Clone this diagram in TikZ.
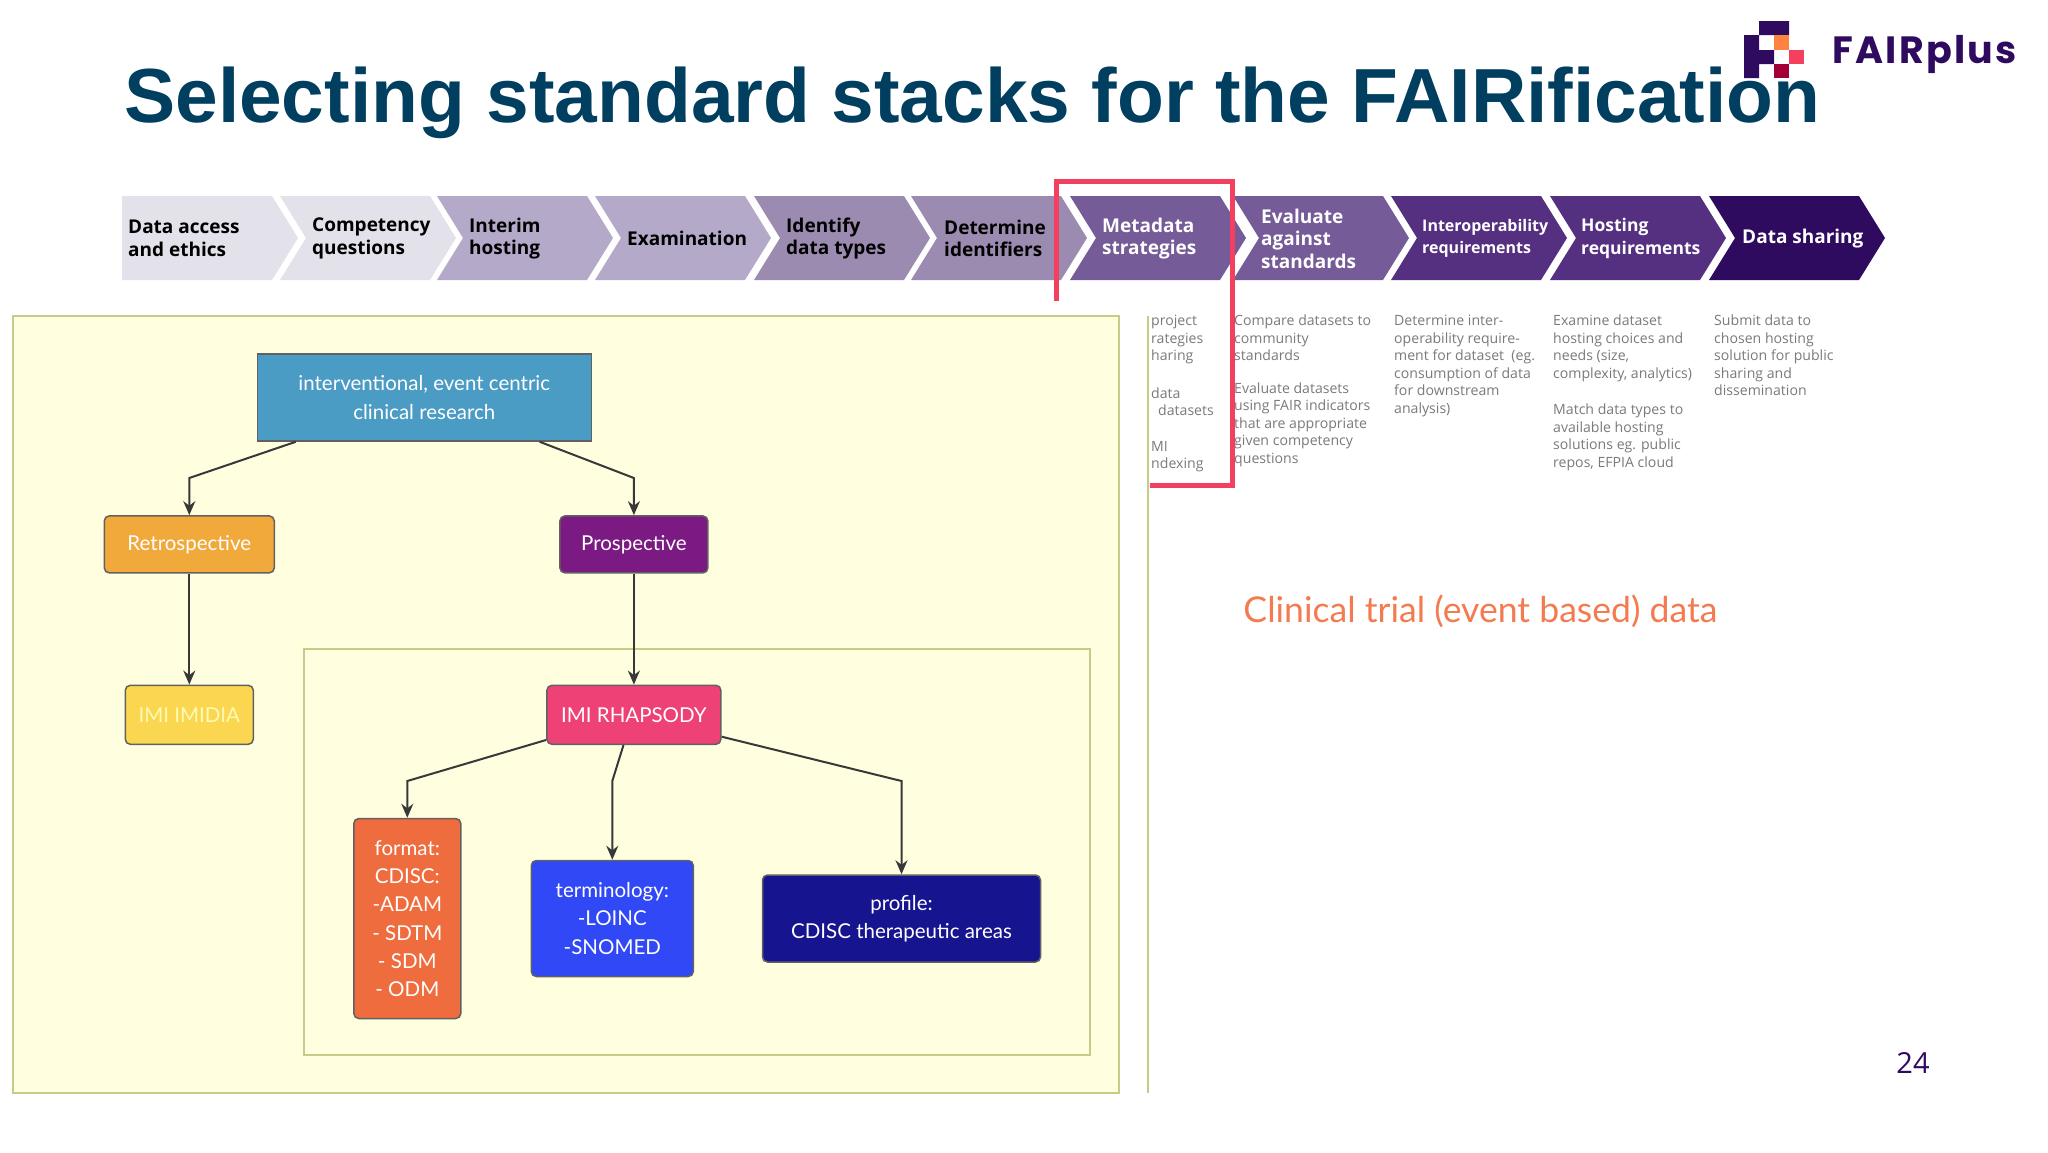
\documentclass[tikz,border=0pt]{standalone}
\usepackage{fontspec}
\usetikzlibrary{arrows.meta}
\setmainfont{Lato}
\newfontfamily\titlefont{Liberation Sans}
\newfontfamily\chvfont{Open Sans}
\newfontfamily\logofont{Poppins}[LetterSpace=6]
\newcommand{\fsize}[2]{\fontsize{#1}{#2}\selectfont}
\definecolor{titleblue}{HTML}{003F5F}
\definecolor{logodark}{HTML}{2F0B60}
\definecolor{framelime}{HTML}{C6CB88}
\definecolor{paleyellow}{HTML}{FFFFE0}
\definecolor{redmark}{HTML}{F2405E}
\tikzset{
  flowbox/.style={draw=black!62, line width=1.5pt, rounded corners=5pt, inner sep=0pt,
    text=white, align=center, font=\fsize{20.5}{28.3}},
  flowline/.style={draw=black!78, line width=2pt, -{Stealth[length=14pt,width=12pt]}},
  frame/.style={draw=framelime, line width=2pt},
  chvtext/.style={anchor=west, align=left, inner sep=0pt, font=\chvfont\bfseries\fsize{19}{22.4}},
  desc/.style={anchor=north west, align=left, inner sep=0pt, text=black!52,
    font=\chvfont\fsize{14.1}{17.5}},
}
\begin{document}
\begin{tikzpicture}[x=1pt,y=-1pt]
\useasboundingbox (0,0) rectangle (2048,1152);
\fill[white] (0,0) rectangle (2048,1152);

% logo
\fill[logodark] (1759,21) rectangle (1789,35) (1744,35) rectangle (1759,78) (1759,50) rectangle (1774,64);
\fill[orange!70!red!75] (1774,35) rectangle (1789,50);
\fill[redmark] (1789,50) rectangle (1804,64);
\fill[purple!85!black] (1774,64) rectangle (1789,78);
\node[anchor=base west, inner sep=0pt, text=logodark, font=\logofont\bfseries\fsize{38}{38}] (logo) at (1832,63) {FAIRplus};

\node[anchor=base west, inner sep=0pt, text=titleblue, font=\titlefont\bfseries\fsize{76.7}{76.7}] (title) at (124,122)
  {Selecting standard stacks for the FAIRification};

% process strip
\foreach \i/\sx/\chvfill/\chvcol/\tx/\lbl in {
  0/122/E3E1EA/black/128/{Data access\\and ethics},
  1/280/E3E1EA/black/312/{Competency\\questions},
  2/437/B5A9C9/black/469/{Interim\\hosting},
  3/595/B5A9C9/black/627/{Examination},
  4/754/9C8BB0/black/786/{Identify\\data types},
  5/911/9C8BB0/black/944/{Determine\\identifiers},
  6/1070/755B97/white/1102/{Metadata\\strategies},
  7/1233/755B97/white/1261/{Evaluate\\against\\standards},
  8/1391/553080/white/1422/{\fsize{16}{19.5}Interoperability\\\fsize{16}{19.5}requirements},
  9/1550/553080/white/1581/{\fsize{17.5}{21}Hosting\\\fsize{17.5}{21}requirements},
  10/1709/2F0B60/white/1742/{Data sharing}}
{
  \definecolor{chvc}{HTML}{\chvfill}
  \ifnum\i=0
    \fill[chvc] (\sx,196) -- (\sx+150,196) -- (\sx+176,238) -- (\sx+150,280) -- (\sx,280) -- cycle;
  \else
    \fill[chvc] (\sx,196) -- (\sx+150,196) -- (\sx+176,238) -- (\sx+150,280) -- (\sx,280) -- (\sx+26,238) -- cycle;
  \fi
  \node[chvtext, text=\chvcol] (chv\i) at (\tx,238.5) {\lbl};
}

% notes under the strip
\node[desc] (noteclip1) at (1151,315) {project\\rategies\\haring};
\node[desc] (noteclip2) at (1151,388) {data};
\node[desc] (noteclip3) at (1158,405) {datasets};
\node[desc] (noteclip4) at (1151,441) {MI\\ndexing};
\node[desc] (note1) at (1234,315) {Compare datasets to\\community\\standards\\[15pt]Evaluate datasets\\using FAIR indicators\\that are appropriate\\given competency\\questions};
\node[desc] (note2) at (1394,315) {Determine inter-\\operability require-\\ment for dataset\ \ (eg.\\consumption of data\\for downstream\\analysis)};
\node[desc] (note3) at (1553,315) {Examine dataset\\hosting choices and\\needs (size,\\complexity, analytics)\\[19pt]Match data types to\\available hosting\\solutions eg. public\\repos, EFPIA cloud};
\node[desc] (note4) at (1714,315) {Submit data to\\chosen hosting\\solution for public\\sharing and\\dissemination};

% flowchart frames
\draw[frame, fill=paleyellow] (13,316) rectangle (1119,1093);
\draw[frame] (1148,316) -- (1148,1093);
\draw[frame] (304,649) rectangle (1090,1055);

\node[flowbox, sharp corners, fill={rgb,255:red,74;green,156;blue,196}, minimum width=334pt, minimum height=87pt] (interv) at (424.3,397.5)
  {interventional, event centric\\clinical research};
\node[flowbox, fill={rgb,255:red,242;green,169;blue,59}, minimum width=170pt, minimum height=57pt] (retro) at (189.3,544.4) {Retrospective};
\node[flowbox, fill={rgb,255:red,122;green,26;blue,130}, minimum width=148pt, minimum height=57pt] (prosp) at (633.9,544.4) {Prospective};
\node[flowbox, fill={rgb,255:red,251;green,214;blue,80}, text=yellow!30, minimum width=128pt, minimum height=59pt] (imidia) at (189.3,714.8) {IMI IMIDIA};
\node[flowbox, fill={rgb,255:red,238;green,66;blue,119}, minimum width=174pt, minimum height=59pt] (rhapsody) at (633.9,714.8) {IMI RHAPSODY};
\node[flowbox, fill={rgb,255:red,238;green,108;blue,62}, minimum width=107pt, minimum height=200pt] (format) at (407.3,918.5)
  {format:\\CDISC:\\-ADAM\\- SDTM\\- SDM\\- ODM};
\node[flowbox, fill={rgb,255:red,48;green,72;blue,245}, minimum width=162pt, minimum height=116pt] (termin) at (612.3,918.5)
  {terminology:\\-LOINC\\-SNOMED};
\node[flowbox, fill={rgb,255:red,23;green,20;blue,143}, minimum width=278pt, minimum height=87pt] (profile) at (901.5,918.5)
  {profile:\\CDISC therapeutic areas};

\coordinate (bendretro) at (189.3,478);
\coordinate (bendprosp) at (633.9,478);
\coordinate (bendformat) at (407.3,781);
\coordinate (bendtermin) at (612.3,781);
\coordinate (bendprofile) at (901.5,781);
\draw[flowline] (interv.199) -- (bendretro) -- (retro);
\draw[flowline] (interv.-21) -- (bendprosp) -- (prosp);
\draw[flowline] (retro) -- (imidia);
\draw[flowline] (prosp) -- (rhapsody);
\draw[flowline] (rhapsody.196) -- (bendformat) -- (format);
\draw[flowline] (rhapsody.-109) -- (bendtermin) -- (termin);
\draw[flowline] (rhapsody.-14) -- (bendprofile) -- (profile);

% highlight
\draw[redmark, line width=5pt] (1056,301) -- (1056,181) -- (1232,181) -- (1232,485) -- (1150,485);

\node[inner sep=0pt, text={rgb,255:red,244;green,123;blue,79}, font=\fsize{35.6}{36}] (trial) at (1480.5,611) {Clinical trial (event based) data};
\node[inner sep=0pt, text=logodark, font=\chvfont\fsize{29}{29}] (pagenum) at (1913,1063) {24};
\end{tikzpicture}
\end{document}
